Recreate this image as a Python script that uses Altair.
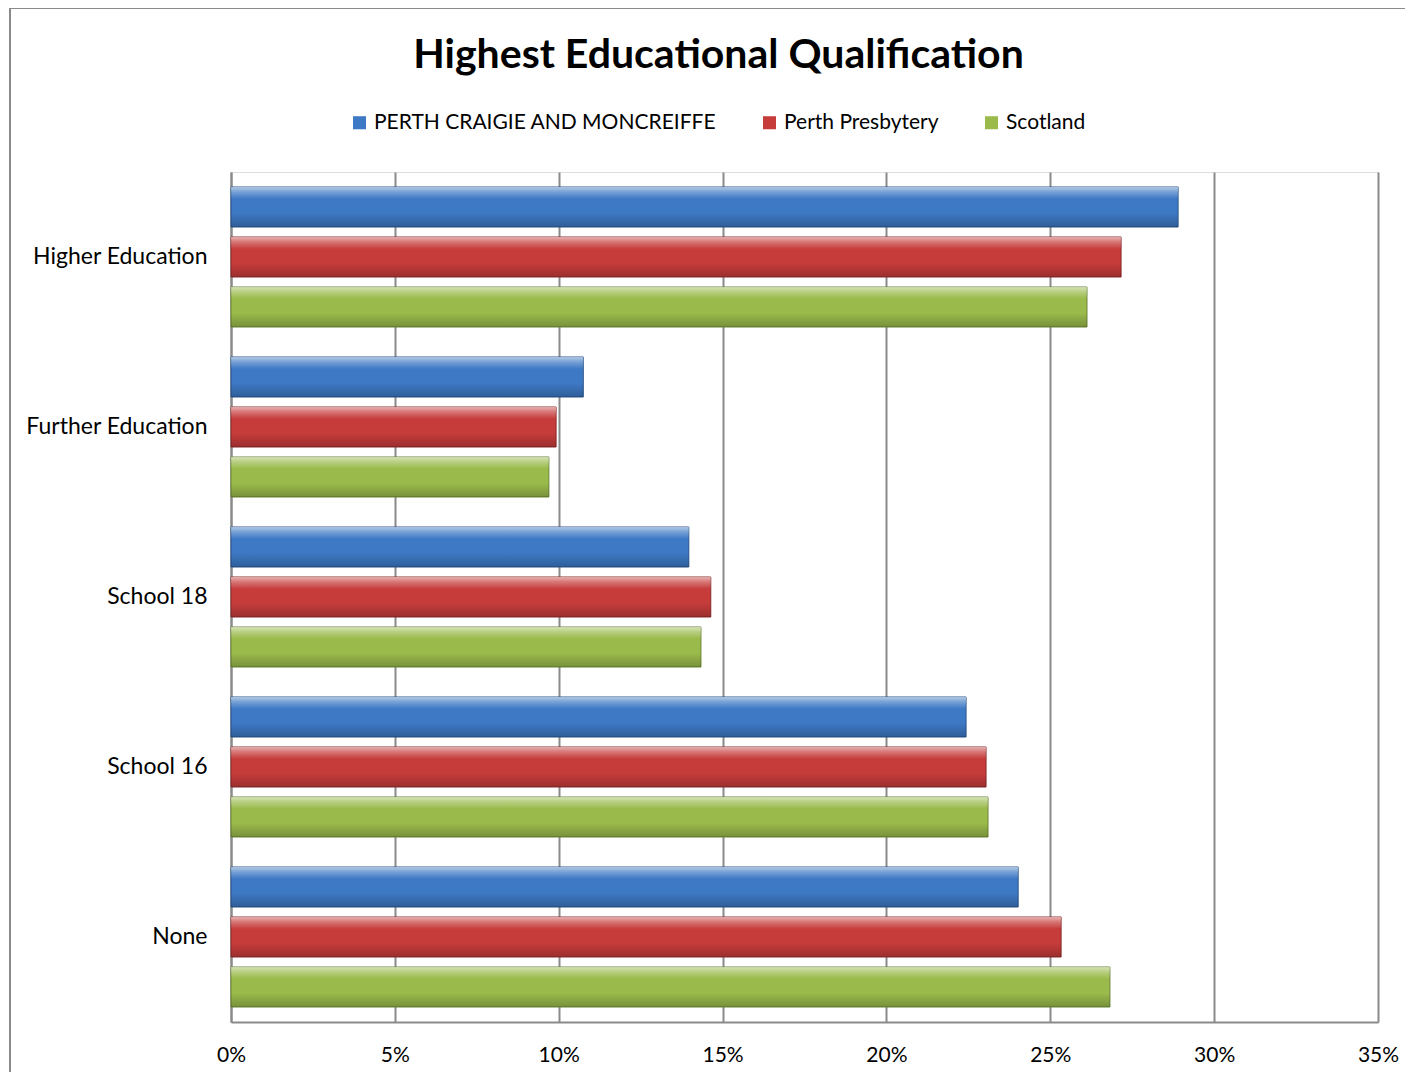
import altair as alt
import pandas as pd

categories = ["Higher Education", "Further Education", "School 18", "School 16", "None"]
series = ["PERTH CRAIGIE AND MONCREIFFE", "Perth Presbytery", "Scotland"]
perth_craigie = [28.90, 10.75, 13.97, 22.43, 24.02]
perth_presbytery = [27.16, 9.92, 14.64, 23.04, 25.33]
scotland = [26.12, 9.70, 14.34, 23.10, 26.82]
x_ticks = [0, 0.05, 0.10, 0.15, 0.20, 0.25, 0.30, 0.35]

fill_colors = ["#3d79c4", "#c63c3b", "#9aba4b"]
edge_colors = ["#2a558c", "#8c2a2a", "#6b8536"]

rows = []
for s, vals in zip(series, [perth_craigie, perth_presbytery, scotland]):
    for c, v in zip(categories, vals):
        rows.append({"category": c, "series": s, "value": v / 100.0})
df = pd.DataFrame(rows)

FONT = "Lato"

y_enc = alt.Y("category:N", sort=categories, title=None,
              scale=alt.Scale(paddingInner=0, paddingOuter=0),
              axis=alt.Axis(labelFont=FONT, labelFontSize=23, labelColor="#000",
                            labelPadding=24, labelLimit=400, ticks=False, domain=True,
                            domainColor="#8a8a8a", domainWidth=2, grid=False))
x_enc = alt.X("value:Q", title=None,
              scale=alt.Scale(domain=[0, 0.35], nice=False, zero=True),
              axis=alt.Axis(format=".0%", values=x_ticks, labelFont=FONT,
                            labelFontSize=21, labelColor="#000", labelPadding=22,
                            labelFlush=False, labelOverlap=False,
                            ticks=False, domain=True, domainColor="#8a8a8a",
                            domainWidth=2, grid=True, gridColor="#8a8a8a",
                            gridWidth=2))
yoff = alt.YOffset("series:N", sort=series,
                   scale=alt.Scale(paddingInner=0.2, paddingOuter=0.3))

base = alt.Chart(df).mark_bar(strokeWidth=1).encode(
    y=y_enc,
    x=x_enc,
    yOffset=yoff,
    color=alt.Color("series:N", sort=series,
                    scale=alt.Scale(domain=series, range=fill_colors),
                    legend=alt.Legend(orient="none", direction="horizontal",
                                      legendX=118, legendY=-60, title=None,
                                      symbolType="square", symbolSize=170,
                                      symbolStrokeWidth=0, labelFont=FONT,
                                      labelFontSize=21, labelColor="#000",
                                      labelOffset=4, columnPadding=42,
                                      labelLimit=500)),
    stroke=alt.Stroke("series:N", sort=series,
                      scale=alt.Scale(domain=series, range=edge_colors),
                      legend=None),
)

shine = alt.Chart(df).mark_bar(
    color=alt.Gradient(
        gradient="linear", x1=0, x2=0, y1=0, y2=1,
        stops=[
            alt.GradientStop(color="rgba(255,255,255,0.6)", offset=0),
            alt.GradientStop(color="rgba(255,255,255,0.3)", offset=0.12),
            alt.GradientStop(color="rgba(255,255,255,0.0)", offset=0.3),
            alt.GradientStop(color="rgba(0,0,0,0.0)", offset=0.65),
            alt.GradientStop(color="rgba(0,0,0,0.22)", offset=1),
        ],
    )
).encode(y=alt.Y("category:N", sort=categories), x="value:Q", yOffset=yoff)

frame = alt.Chart(alt.Data(values=[{}])).mark_rect(
    fill=None, stroke="#8a8a8a", strokeWidth=2
).encode(x=alt.value(-221), x2=alt.value(1200), y=alt.value(-164), y2=alt.value(930))

chart = alt.layer(frame, base, shine).properties(
    width=1147,
    height=850,
    autosize=alt.AutoSizeParams(type="none"),
    padding={"left": 223, "top": 164, "right": 27, "bottom": 50},
    title=alt.Title("Highest Educational Qualification", font=FONT, fontSize=41,
                    fontWeight="bold", color="#000", anchor="middle", dx=-86,
                    offset=-70),
).configure_view(stroke=None).configure(background="white")

chart.save("out.html", embed_options={"renderer": "svg", "actions": False})
